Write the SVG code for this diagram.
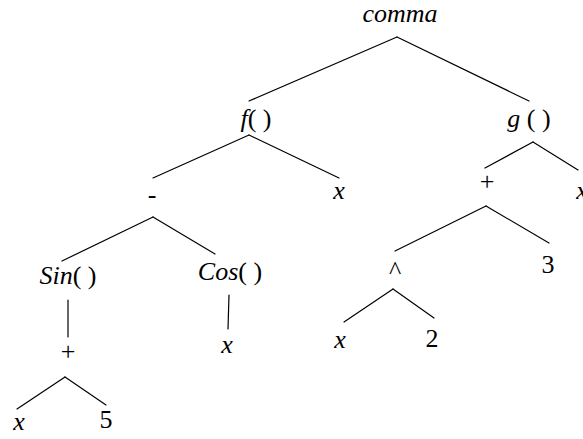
<svg xmlns="http://www.w3.org/2000/svg" width="583" height="439" viewBox="0 0 583 439">
  <style>
    .edge { stroke: #000; stroke-width: 1.2; fill: none; stroke-linecap: round; }
  </style>
  <rect width="583" height="439" fill="#fff"/>

  <!-- tree edges -->
  <g id="edges">
    <line class="edge" x1="397" y1="37" x2="249" y2="101"/>
    <line class="edge" x1="397" y1="37" x2="529" y2="101"/>
    <line class="edge" x1="249" y1="135" x2="153" y2="178"/>
    <line class="edge" x1="249" y1="135" x2="339" y2="178"/>
    <line class="edge" x1="533" y1="142" x2="485" y2="168"/>
    <line class="edge" x1="533" y1="142" x2="578" y2="170"/>
    <line class="edge" x1="153" y1="217" x2="62" y2="261"/>
    <line class="edge" x1="153" y1="217" x2="215" y2="254"/>
    <line class="edge" x1="68" y1="300" x2="68" y2="337"/>
    <line class="edge" x1="229" y1="295" x2="228" y2="329"/>
    <line class="edge" x1="65" y1="377" x2="17" y2="409"/>
    <line class="edge" x1="65" y1="377" x2="106" y2="405"/>
    <line class="edge" x1="486" y1="206" x2="395" y2="251"/>
    <line class="edge" x1="486" y1="206" x2="549" y2="243"/>
    <line class="edge" x1="393" y1="289" x2="344" y2="322"/>
    <line class="edge" x1="393" y1="289" x2="434" y2="318"/>
  </g>

  <!-- nodes -->
  <g id="nodes">
    <g id="n-comma"><text x="400" y="22" font-family="Liberation Serif" font-size="26" text-anchor="middle" font-style="italic">comma</text></g>
    <g id="n-f"><text x="256" y="127" font-family="Liberation Serif" font-size="26" text-anchor="middle"><tspan font-style="italic">f</tspan>( )</text></g>
    <g id="n-g"><text x="529" y="127" font-family="Liberation Serif" font-size="26" text-anchor="middle"><tspan font-style="italic">g</tspan> ( )</text></g>
    <g id="n-minus"><text x="152" y="203" font-family="Liberation Serif" font-size="26" text-anchor="middle">-</text></g>
    <g id="n-fx"><text x="339" y="199" font-family="Liberation Serif" font-size="26" text-anchor="middle" font-style="italic">x</text></g>
    <g id="n-gplus"><text x="487" y="190" font-family="Liberation Serif" font-size="26" text-anchor="middle">+</text></g>
    <g id="n-gx"><text x="582" y="199" font-family="Liberation Serif" font-size="26" text-anchor="middle" font-style="italic">x</text></g>
    <g id="n-sin"><text x="68" y="284" font-family="Liberation Serif" font-size="26" text-anchor="middle"><tspan font-style="italic">Sin</tspan>( )</text></g>
    <g id="n-cos"><text x="230" y="280" font-family="Liberation Serif" font-size="26" text-anchor="middle"><tspan font-style="italic">Cos</tspan>( )</text></g>
    <g id="n-sinplus"><text x="68" y="360" font-family="Liberation Serif" font-size="26" text-anchor="middle">+</text></g>
    <g id="n-cosx"><text x="227" y="353" font-family="Liberation Serif" font-size="26" text-anchor="middle" font-style="italic">x</text></g>
    <g id="n-x1"><text x="19" y="430" font-family="Liberation Serif" font-size="26" text-anchor="middle" font-style="italic">x</text></g>
    <g id="n-5"><text x="106" y="428" font-family="Liberation Serif" font-size="26" text-anchor="middle">5</text></g>
    <g id="n-pow"><text x="395" y="279" font-family="Liberation Serif" font-size="26" text-anchor="middle">^</text></g>
    <g id="n-3"><text x="548" y="273" font-family="Liberation Serif" font-size="26" text-anchor="middle">3</text></g>
    <g id="n-x2"><text x="340" y="348" font-family="Liberation Serif" font-size="26" text-anchor="middle" font-style="italic">x</text></g>
    <g id="n-2"><text x="432" y="347" font-family="Liberation Serif" font-size="26" text-anchor="middle">2</text></g>
  </g>
</svg>
